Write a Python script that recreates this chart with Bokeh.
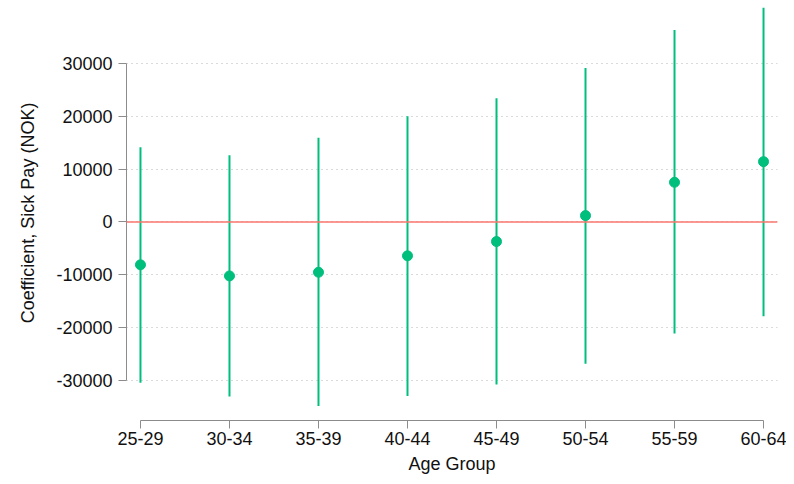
from bokeh.plotting import figure
from bokeh.models import Range1d, FixedTicker, Span, ColumnDataSource
from bokeh.embed import file_html
from bokeh.resources import INLINE

age_groups = ["25-29", "30-34", "35-39", "40-44", "45-49", "50-54", "55-59", "60-64"]
coef = [-8100, -10200, -9500, -6400, -3700, 1200, 7500, 11400]
ci_low = [-30400, -33000, -34800, -32900, -30700, -26800, -21100, -17800]
ci_high = [14100, 12600, 15900, 20000, 23400, 29100, 36300, 40500]
y_ticks = [-30000, -20000, -10000, 0, 10000, 20000, 30000]

idx = list(range(len(age_groups)))
src = ColumnDataSource(dict(x=idx, coef=coef, lo=ci_low, hi=ci_high))

FONT = "Liberation Sans"
GREEN = "#00BF7D"

p = figure(width=786, height=476, output_backend="svg", toolbar_location=None,
           x_range=Range1d(-0.157, 7.157), y_range=Range1d(-37520, 40910),
           min_border_left=126, min_border_right=9, min_border_top=5, min_border_bottom=54)
p.outline_line_color = None
p.background_fill_color = "white"
p.border_fill_color = "white"

p.xgrid.grid_line_color = None
p.ygrid.grid_line_color = "#b4b4b4"
p.ygrid.grid_line_dash = "1 4"
p.ygrid.grid_line_width = 1
p.ygrid.ticker = FixedTicker(ticks=y_ticks)

p.add_layout(Span(location=0, dimension="width", line_color="#F8766D", line_width=1.5))

p.segment(x0="x", y0="lo", x1="x", y1="hi", source=src, line_color=GREEN, line_width=2)
p.scatter(x="x", y="coef", source=src, size=10, fill_color=GREEN, line_color=GREEN)

for ax in (p.xaxis[0], p.yaxis[0]):
    ax.axis_line_color = "#8c8c8c"
    ax.major_tick_line_color = "#8c8c8c"
    ax.axis_line_width = 1
    ax.major_tick_line_width = 1
    ax.major_tick_out = 8
    ax.major_tick_in = 0
    ax.minor_tick_line_color = None
    ax.major_label_text_font = FONT
    ax.major_label_text_font_size = "18px"
    ax.major_label_text_color = "#111111"
    ax.axis_label_text_font = FONT
    ax.axis_label_text_font_size = "18px"
    ax.axis_label_text_font_style = "normal"
    ax.axis_label_text_color = "#111111"

p.xaxis.ticker = FixedTicker(ticks=idx)
p.xaxis.major_label_overrides = {i: g for i, g in enumerate(age_groups)}
p.xaxis.bounds = (0, len(age_groups) - 1)
p.xaxis.axis_label = "Age Group"
p.xaxis.major_label_standoff = 3
p.xaxis.axis_label_standoff = 6

p.yaxis.ticker = FixedTicker(ticks=y_ticks)
p.yaxis.major_label_overrides = {t: str(t) for t in y_ticks}
p.yaxis.bounds = (-30000, 30000)
p.yaxis.axis_label = "Coefficient, Sick Pay (NOK)"
p.yaxis.major_label_standoff = 6
p.yaxis.axis_label_standoff = 15

open("out.html", "w").write(file_html(p, INLINE))
